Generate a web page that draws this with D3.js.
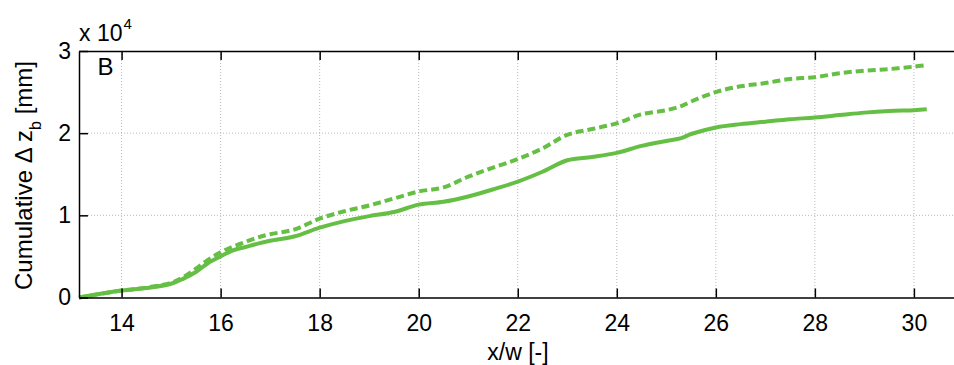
<!DOCTYPE html>
<html><head><meta charset="utf-8">
<script src="https://cdn.jsdelivr.net/npm/d3@7"></script>
<style>body{margin:0;background:#fff}svg{display:block}text{font-family:"Liberation Sans",Arial,sans-serif;fill:#000}</style>
</head><body><svg id="c" width="954" height="365"></svg>
<script>
const xPos = [13.14,14,14.5,15,15.25,15.5,15.75,16,16.25,16.5,16.75,17,17.5,18,18.5,19,19.5,20,20.5,21,21.5,22,22.5,23,23.5,24,24.5,25,25.3,25.5,26,26.5,27,27.5,28,28.5,29,29.5,30,30.26];
const solidZ = [0,0.085,0.115,0.167,0.23,0.31,0.42,0.50,0.575,0.615,0.655,0.69,0.745,0.85,0.93,0.99,1.04,1.13,1.165,1.23,1.315,1.41,1.53,1.67,1.71,1.76,1.845,1.905,1.94,1.99,2.07,2.11,2.14,2.17,2.19,2.22,2.25,2.27,2.28,2.29];
const dashedZ = [0,0.085,0.12,0.18,0.25,0.35,0.46,0.55,0.62,0.675,0.73,0.77,0.83,0.96,1.05,1.12,1.205,1.29,1.34,1.47,1.58,1.685,1.815,1.98,2.05,2.12,2.23,2.28,2.33,2.385,2.50,2.57,2.61,2.66,2.68,2.73,2.76,2.78,2.81,2.83];
const xTicks = [14,16,18,20,22,24,26,28,30];
const yTicks = [0,1,2,3];

const svg = d3.select("#c");
const L=79, T=51, R=956, B=297.5;
const x = d3.scaleLinear().domain([13.14, 30.85]).range([L, R]);
const y = d3.scaleLinear().domain([0, 3]).range([B, T]);
const green = "#66bf45";
const FONT = "Liberation Sans, Arial, sans-serif";

// grid
const g = svg.append("g");
g.selectAll(".gx").data(xTicks).join("line")
  .attr("x1",d=>x(d)).attr("x2",d=>x(d)).attr("y1",T).attr("y2",B)
  .attr("stroke","#b8b8b8").attr("stroke-width",1).attr("stroke-dasharray","1,2");
g.selectAll(".gy").data(yTicks.slice(1,3)).join("line")
  .attr("x1",L).attr("x2",R).attr("y1",d=>y(d)).attr("y2",d=>y(d))
  .attr("stroke","#b8b8b8").attr("stroke-width",1).attr("stroke-dasharray","1,2");

// lines
const line = d3.line().x((d,i)=>x(xPos[i])).y(d=>y(d)).curve(d3.curveCatmullRom.alpha(0.5));
svg.append("path").datum(solidZ).attr("d",line).attr("fill","none")
  .attr("stroke",green).attr("stroke-width",4);
svg.append("path").datum(dashedZ).attr("d",line).attr("fill","none")
  .attr("stroke",green).attr("stroke-width",4).attr("stroke-dasharray","8,4");

// axes (box with inward ticks)
const ax = svg.append("g").attr("transform",`translate(0,${B})`)
  .call(d3.axisBottom(x).tickValues(xTicks).tickSizeInner(-9).tickSizeOuter(0).tickPadding(17).tickFormat(d3.format("d")));
const at = svg.append("g").attr("transform",`translate(0,${T})`)
  .call(d3.axisTop(x).tickValues(xTicks).tickSizeInner(-9).tickSizeOuter(0).tickFormat(""));
const ay = svg.append("g").attr("transform",`translate(${L},0)`)
  .call(d3.axisLeft(y).tickValues(yTicks).tickSizeInner(-9).tickSizeOuter(0).tickPadding(8).tickFormat(d3.format("d")));
[ax,at,ay].forEach(a=>{
  a.select(".domain").attr("stroke","#000").attr("stroke-width",1.5);
  a.selectAll(".tick line").attr("stroke","#000").attr("stroke-width",1.5);
  a.selectAll("text").attr("font-size",23).attr("font-family",FONT).attr("fill","#000");
});

// exponent label
const ex = svg.append("text").attr("x",79).attr("y",41).attr("font-size",23);
ex.append("tspan").text("x 10");
ex.append("tspan").attr("font-size",15).attr("dy",-12).attr("dx",1).text("4");

// panel letter
svg.append("text").attr("x",97.5).attr("y",75).attr("font-size",24).text("B");

// x label
svg.append("text").attr("x",518).attr("y",360).attr("text-anchor","middle").attr("font-size",23).text("x/w [-]");

// y label
const yl = svg.append("text").attr("transform","translate(32,175.5) rotate(-90)").attr("text-anchor","middle").attr("font-size",24);
yl.append("tspan").text("Cumulative \u0394 z");
yl.append("tspan").attr("font-size",16).attr("dy",9).text("b");
yl.append("tspan").attr("dy",-9).text(" [mm]");
</script></body></html>
